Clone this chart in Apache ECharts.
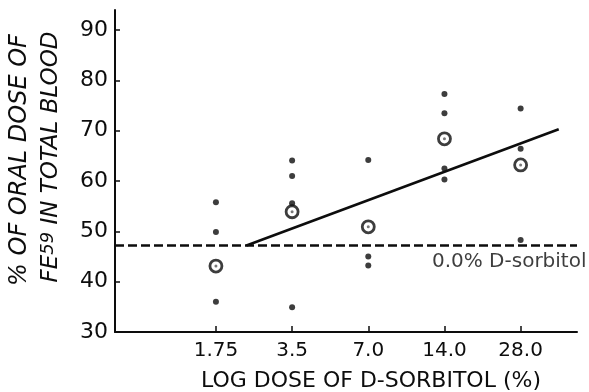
<!DOCTYPE html>
<html>
<head>
<meta charset="utf-8">
<script src="https://cdn.jsdelivr.net/npm/echarts@6/dist/echarts.min.js"></script>
<style>
  html, body { margin: 0; padding: 0; background: #fff; }
  #chart { width: 589px; height: 392px; }
</style>
</head>
<body>
<div id="chart"></div>
<script>
// D-sorbitol dose groups (%), plotted on a log2 scale
const doses = [1.75, 3.5, 7.0, 14.0, 28.0];
const doseLabels = ['1.75', '3.5', '7.0', '14.0', '28.0'];
const yTicks = [30, 40, 50, 60, 70, 80, 90];

// individual animals: % of oral Fe59 dose in total blood
const dose175 = [55.8, 49.9, 36.0];
const dose35 = [64.1, 61.0, 55.6, 34.9];
const dose70 = [64.2, 45.0, 43.2];
const dose140 = [77.3, 73.5, 62.5, 60.3];
const dose280 = [74.4, 66.4, 48.3];
const groups = [dose175, dose35, dose70, dose140, dose280];

// group means (ringed points)
const groupMeans = [43.1, 53.9, 50.9, 68.4, 63.2];

// control level without D-sorbitol
const controlLevel = 47.2;
const controlLabel = '0.0% D-sorbitol';

// fitted dose-response line: [dose %, value]
const fitLine = [[2.31, 47.2], [39.6, 70.3]];

const lx = d => Math.log2(d);
const xMin = lx(1.75) - 1.325;
const xMax = lx(1.75) + 4.74;

const points = [];
groups.forEach((vals, i) => vals.forEach(v => points.push([lx(doses[i]), v])));
const means = groupMeans.map((v, i) => [lx(doses[i]), v]);

const FONT = 'DejaVu Sans';
const INK = '#0d0d0d';
const chart = echarts.init(document.getElementById('chart'));
chart.setOption({
  animation: false,
  backgroundColor: '#fff',
  grid: { left: 115, right: 12, top: 10, bottom: 60, outerBoundsMode: 'none', containLabel: false },
  xAxis: {
    type: 'value', min: xMin, max: xMax,
    axisLine: { onZero: false, lineStyle: { color: INK, width: 2 } },
    axisTick: { inside: true, length: 6, lineStyle: { color: INK, width: 1.5 },
      customValues: doses.map(lx) },
    axisLabel: {
      customValues: doses.map(lx), margin: 9,
      color: INK, fontFamily: FONT, fontSize: 20,
      formatter: v => {
        const i = doses.findIndex(d => Math.abs(lx(d) - v) < 1e-6);
        return i >= 0 ? doseLabels[i] : '';
      }
    },
    splitLine: { show: false },
    name: 'LOG DOSE OF D-SORBITOL (%)',
    nameLocation: 'middle', nameGap: 38,
    nameTextStyle: { color: INK, fontFamily: FONT, fontSize: 22, padding: [0, 0, 0, 50] }
  },
  yAxis: {
    type: 'value', min: 30, max: 94,
    axisLine: { show: true, onZero: false, lineStyle: { color: INK, width: 2 } },
    axisTick: { show: true, inside: true, length: 5, lineStyle: { color: INK, width: 1.5 },
      customValues: yTicks },
    axisLabel: { customValues: yTicks, margin: 7, color: INK, fontFamily: FONT, fontSize: 22 },
    splitLine: { show: false }
  },
  graphic: [
    {
      type: 'text', x: 20, y: 160, rotation: Math.PI / 2,
      style: {
        text: '% OF ORAL DOSE OF', fill: INK,
        font: 'italic 24px "DejaVu Sans"', align: 'center', verticalAlign: 'middle'
      }
    },
    {
      type: 'text', x: 51, y: 157, rotation: Math.PI / 2,
      style: {
        text: '{a|FE}{s|59}{a| IN TOTAL BLOOD}', fill: INK,
        align: 'center', verticalAlign: 'middle',
        rich: {
          a: { font: 'italic 23px "DejaVu Sans"', fill: INK, verticalAlign: 'bottom' },
          s: { font: 'italic 18px "DejaVu Sans"', fill: INK, verticalAlign: 'top' }
        }
      }
    }
  ],
  series: [
    {
      type: 'line', silent: true, symbol: 'none',
      data: [[xMin, controlLevel], [xMax, controlLevel]],
      lineStyle: { color: INK, width: 2.6, type: [9, 4] },
      z: 2
    },
    {
      // caption under the right end of the control line
      type: 'scatter', silent: true, symbolSize: 1, clip: false,
      data: [[xMax, controlLevel]],
      itemStyle: { color: 'rgba(0,0,0,0)' },
      label: {
        show: true, formatter: controlLabel, position: [10, 17],
        align: 'right', verticalAlign: 'middle',
        color: INK, fontFamily: FONT, fontSize: 20
      },
      labelLayout: { hideOverlap: false },
      z: 2
    },
    {
      type: 'line', silent: true, symbol: 'none',
      data: fitLine.map(p => [lx(p[0]), p[1]]),
      lineStyle: { color: INK, width: 2.6 },
      z: 2
    },
    {
      type: 'scatter', data: points, symbol: 'circle', symbolSize: 6,
      itemStyle: { color: INK }, z: 3
    },
    {
      type: 'scatter', data: means, symbol: 'circle', symbolSize: 12,
      itemStyle: { color: '#fff', borderColor: INK, borderWidth: 2.8 }, z: 4
    },
    {
      type: 'scatter', data: means, symbol: 'circle', symbolSize: 3,
      itemStyle: { color: '#555' }, z: 5
    }
  ]
});
</script>
</body>
</html>
